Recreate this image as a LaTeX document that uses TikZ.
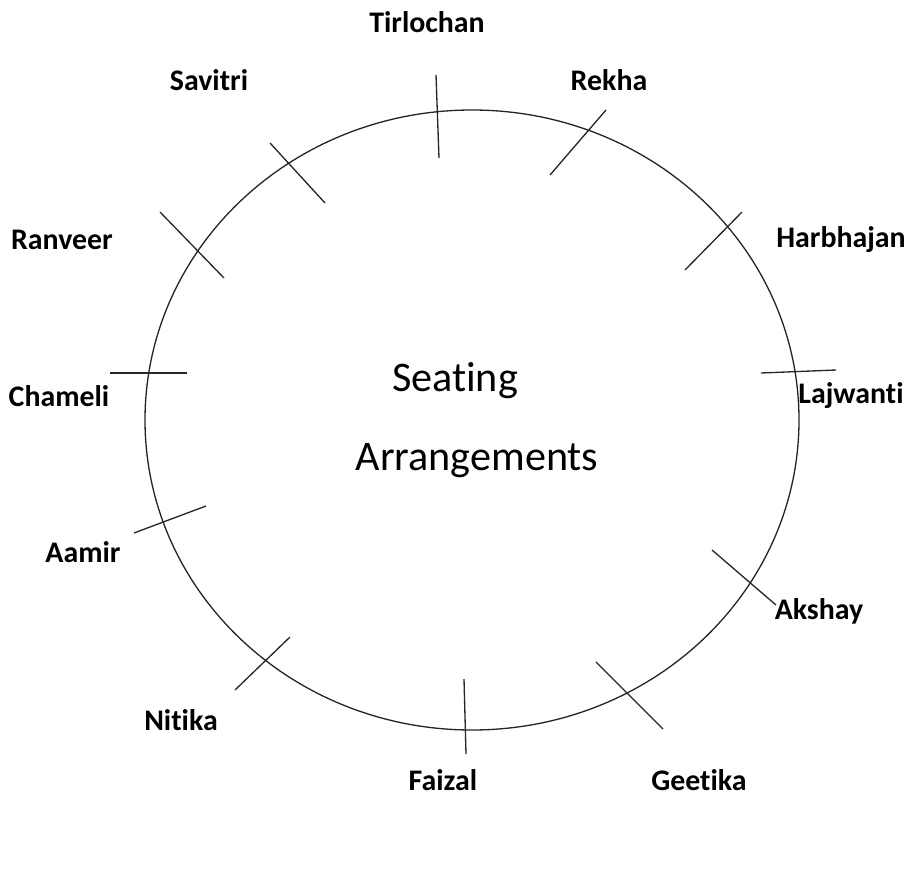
\documentclass[tikz,border=0pt]{standalone}
\usepackage{fontspec}
\setmainfont[Ligatures=NoCommon]{Carlito}
\usetikzlibrary{positioning}

\begin{document}
\begin{tikzpicture}[x=0.02cm,y=-0.02cm,
    ring/.style={draw=black!85,line width=0.75pt},
    seat tick/.style={draw=black!85,line width=0.75pt},
    name node/.style={font=\fontsize{17}{19}\selectfont\bfseries,inner sep=0pt},
    title node/.style={font=\fontsize{24}{27}\selectfont,inner sep=0pt}]
   \useasboundingbox (0,0) rectangle (909,875);
   % table
   \draw[ring] (472,420) ellipse [x radius=327, y radius=310];
   \node[title node] (seat) at (455,381) {Seating};
   \node[title node] (arr) at (477,461) {Arrangements};
   % seats
   \draw[seat tick] (436,75) -- (439,158);
   \draw[seat tick] (606,110) -- (550,175);
   \draw[seat tick] (742,212) -- (685,270);
   \draw[seat tick] (761,373) -- (836,370);
   \draw[seat tick] (712,550) -- (776,605);
   \draw[seat tick] (596,662) -- (663,729);
   \draw[seat tick] (464,679) -- (466,754);
   \draw[seat tick] (235,690) -- (290,637);
   \draw[seat tick] (134,533) -- (206,506);
   \draw[seat tick] (110,373) -- (187,373);
   \draw[seat tick] (160,212) -- (224,278);
   \draw[seat tick] (270,143) -- (325,203);
   % names
   \node[name node] (tirlochan) at (427,22) {Tirlochan};
   \node[name node] (rekha) at (609,80) {Rekha};
   \node[name node] (harbhajan) at (841,240) {Harbhajan};
   \node[name node] (lajwanti) at (851,396) {Lajwanti};
   \node[name node] (akshay) at (819,611) {Akshay};
   \node[name node] (geetika) at (699,780) {Geetika};
   \node[name node] (faizal) at (443,780) {Faizal};
   \node[name node] (nitika) at (181,720) {Nitika};
   \node[name node] (aamir) at (83,552) {Aamir};
   \node[name node] (chameli) at (59,396) {Chameli};
   \node[name node] (ranveer) at (62,240) {Ranveer};
   \node[name node] (savitri) at (209,80) {Savitri};
\end{tikzpicture}
\end{document}
